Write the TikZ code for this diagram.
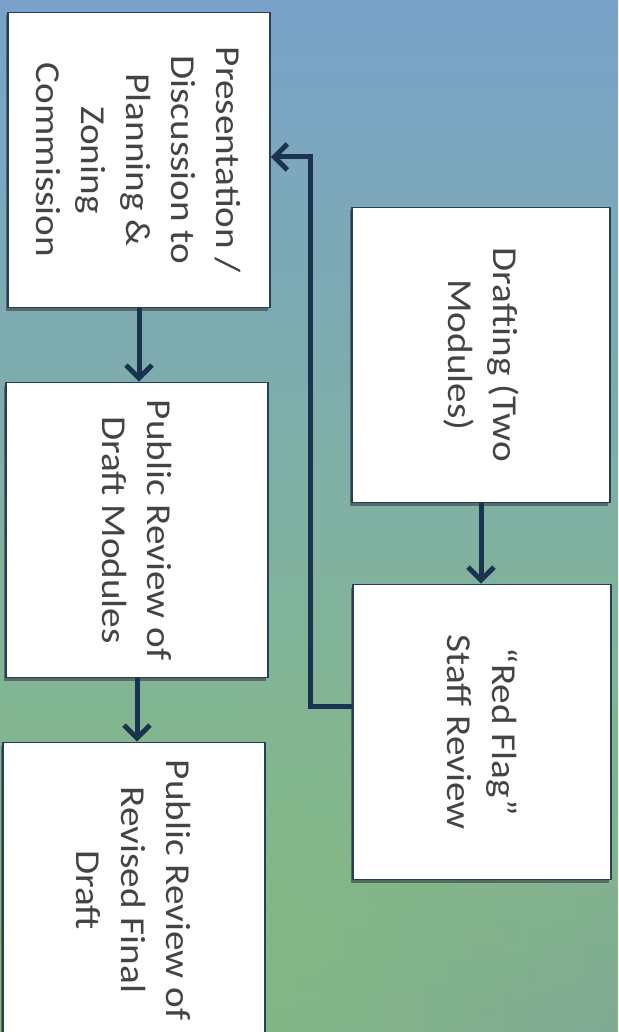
\documentclass[tikz,border=0pt]{standalone}
\usepackage{fontspec}
\setmainfont[FakeStretch=1.12]{Carlito}
\usetikzlibrary{arrows.meta,fadings}
\definecolor{bgtop}{RGB}{122,162,202}
\definecolor{bgmid}{RGB}{128,166,178}
\definecolor{bgbot}{RGB}{134,190,122}
\definecolor{bgteal}{RGB}{126,166,156}
\definecolor{linec}{RGB}{26,52,80}
\definecolor{edgec}{RGB}{36,62,92}
\definecolor{textc}{RGB}{68,68,68}
\begin{document}
\begin{tikzpicture}[x=1pt,y=-1pt,
  stepbox/.style={draw=edgec, line width=1.8pt, fill=white, rotate=-90,
    minimum width=295pt, minimum height=262pt, inner sep=0pt, align=center,
    text=textc, font=\fontsize{35}{45}\selectfont,
    preaction={fill=black!80, opacity=0.55, transform canvas={shift={(-2pt,-3pt)}}}},
  flow/.style={draw=linec, line width=5pt, -{Straight Barb[length=13pt,width=26pt]}}]
\useasboundingbox (0,0) rectangle (618,1032);
\shade[top color=bgtop, middle color=bgmid, bottom color=bgbot] (0,0) rectangle (618,1032);
\shade[left color=bgbot, right color=bgteal, path fading=north, opacity=0.8] (0,700) rectangle (618,1032);

\node[stepbox] (A) at (139,160) {Presentation /\\Discussion to\\Planning \&\\Zoning\\Commission};
\node[stepbox] (D) at (137,530) {Public Review of\\Draft Modules};
\node[stepbox] (E) at (134,890) {Public Review of\\Revised Final\\Draft};
\node[stepbox, minimum height=258pt] (B) at (481,355) {Drafting (Two\\Modules)};
\node[stepbox, minimum height=258pt] (C) at (482,732) {“Red Flag”\\Staff Review};

\draw[flow] (A.east) -- (A.east |- D.west);
\draw[flow] (D.east) -- (D.east |- E.west);
\draw[flow] (B.east) -- (B.east |- C.west);
\draw[flow] ([yshift=26pt]C.south) -- ++(-42,0) |- ([yshift=3pt]A.north);
\end{tikzpicture}
\end{document}
